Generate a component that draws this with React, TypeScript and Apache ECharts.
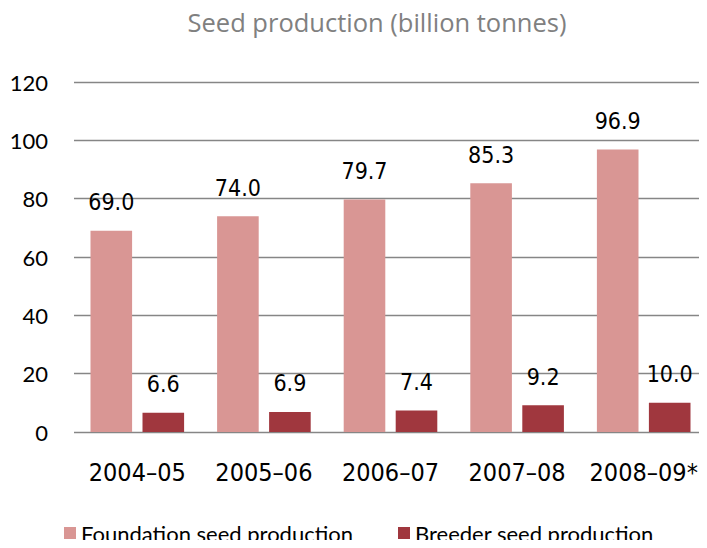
import React, { useEffect, useRef } from "react";
import * as echarts from "echarts";

const categories = ["2004–05", "2005–06", "2006–07", "2007–08", "2008–09*"];
const foundation = [69.0, 74.0, 79.7, 85.3, 96.9];
const breeder = [6.6, 6.9, 7.4, 9.2, 10.0];
const titleText = "Seed production (billion tonnes)";
const seriesNames = ["Foundation seed production", "Breeder seed production"];

export default function App() {
  const ref = useRef<HTMLDivElement>(null);
  useEffect(() => {
    const chart = echarts.init(ref.current!, null, { renderer: "svg" });
    const labelStyle = {
      show: true,
      position: "top" as const,
      distance: 17,
      fontFamily: "DejaVu Sans Condensed",
      fontSize: 23,
      color: "#000",
      formatter: (p: any) => Number(p.value).toFixed(1),
    };
    chart.setOption({
      animation: false,
      backgroundColor: "#fff",
      title: {
        text: titleText,
        left: 372,
        textAlign: "center",
        top: 4,
        textStyle: {
          fontFamily: "Open Sans",
          fontWeight: "normal",
          fontSize: 25.5,
          color: "#808080",
        },
      },
      legend: {
        left: 59,
        top: 517,
        itemWidth: 12,
        itemHeight: 12,
        itemGap: 45,
        icon: "rect",
        textStyle: {
          fontFamily: "Lato",
          fontSize: 22,
          color: "#000",
        },
        data: seriesNames,
      },
      grid: { left: 74, right: 0, top: 82, bottom: 116, containLabel: false },
      xAxis: {
        type: "category",
        data: categories,
        axisLine: { show: false },
        axisTick: { show: false },
        axisLabel: {
          interval: 0,
          margin: 28,
          fontFamily: "DejaVu Sans Condensed",
          fontSize: 25,
          color: "#000",
        },
      },
      yAxis: {
        type: "value",
        min: 0,
        max: 120,
        interval: 20,
        axisLine: { show: false },
        axisTick: { show: false },
        splitLine: { lineStyle: { color: "#868686", width: 1.3 } },
        axisLabel: {
          margin: 26,
          fontFamily: "Lato",
          fontSize: 22,
          color: "#000",
        },
      },
      series: [
        {
          name: seriesNames[0],
          type: "bar",
          data: foundation,
          barWidth: 41.6,
          barGap: "25%",
          itemStyle: { color: "#D99694" },
          label: labelStyle,
        },
        {
          name: seriesNames[1],
          type: "bar",
          data: breeder,
          barWidth: 41.6,
          barGap: "25%",
          itemStyle: { color: "#A0373E" },
          label: labelStyle,
        },
      ],
    });
    return () => chart.dispose();
  }, []);
  return <div ref={ref} style={{ width: 707, height: 548, margin: -8 }} />;
}
